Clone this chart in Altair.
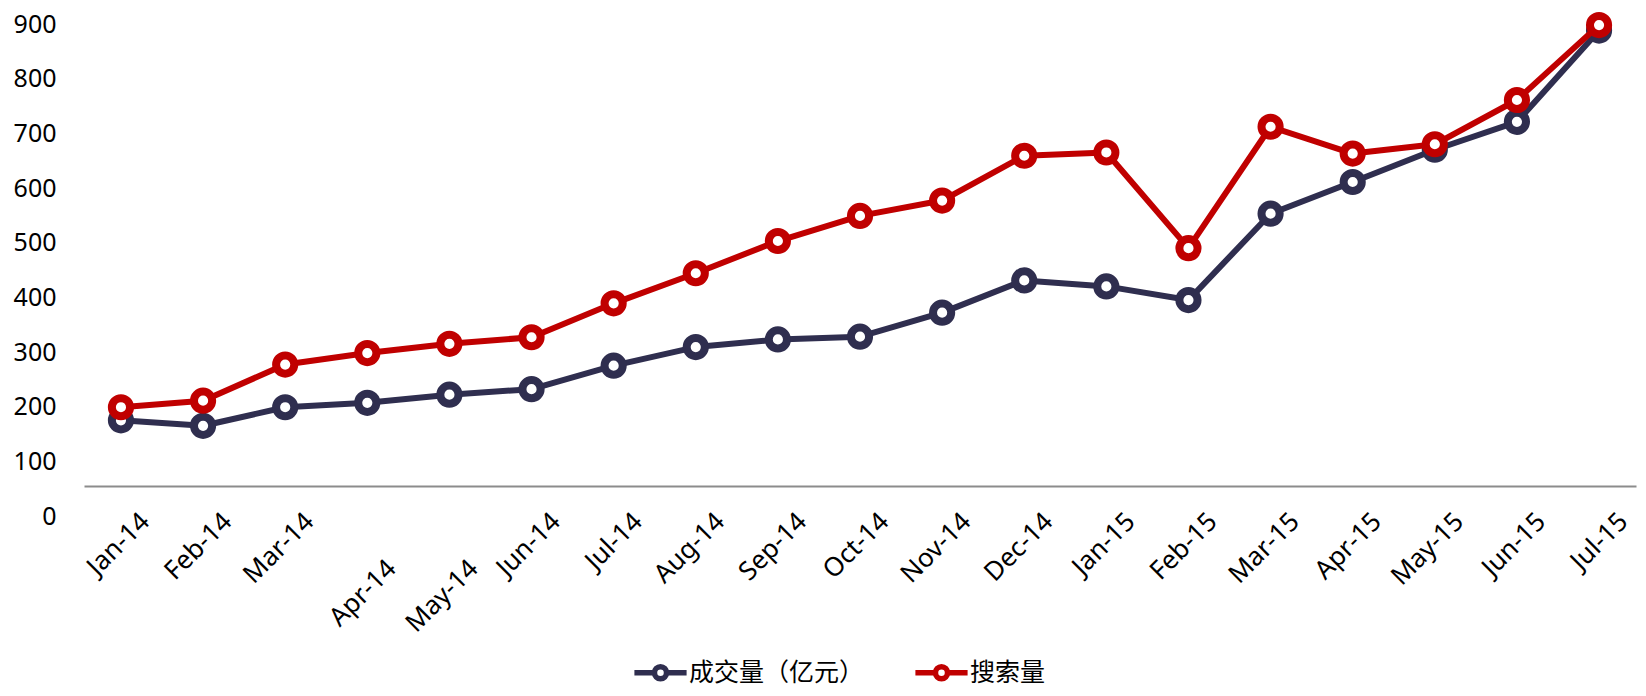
import altair as alt
import pandas as pd

months = ["Jan-14", "Feb-14", "Mar-14", "Apr-14", "May-14", "Jun-14", "Jul-14",
          "Aug-14", "Sep-14", "Oct-14", "Nov-14", "Dec-14", "Jan-15", "Feb-15",
          "Mar-15", "Apr-15", "May-15", "Jun-15", "Jul-15"]
volume = [175, 165, 199, 207, 222, 232, 275, 309, 323, 328, 372, 431, 420, 395,
          553, 611, 670, 721, 888]
search = [199, 211, 277, 298, 315, 327, 389, 444, 503, 549, 577, 659, 665, 490,
          712, 663, 680, 761, 898]
series_names = ["成交量（亿元）", "搜索量"]
colors = ["#2F2E4F", "#C00000"]
y_ticks = list(range(0, 1000, 100))
lowered_labels = ["Apr-14", "May-14"]

rows = []
for name, vals in zip(series_names, [volume, search]):
    for m, v in zip(months, vals):
        rows.append({"month": m, "series": name, "value": v})
df = pd.DataFrame(rows)

legend_path = ("M-2.9,0H-0.67M0.67,0H2.9M0.67,0A0.67,0.67 0 1,1 -0.67,0"
               "A0.67,0.67 0 1,1 0.67,0Z")
legend = alt.Legend(
    title=None, orient="none", legendX=547, legendY=636, direction="horizontal",
    symbolType=legend_path, symbolSize=324, symbolStrokeWidth=5.5,
    symbolFillColor="white", symbolOpacity=1, symbolOffset=17,
    labelFont="Noto Sans CJK SC", labelFontSize=25, labelColor="black",
    labelLimit=0, labelOffset=16, columnPadding=39, padding=0,
)
color = alt.Color("series:N", scale=alt.Scale(domain=series_names, range=colors),
                  legend=legend)

low_test = " || ".join(f"datum.value == '{m}'" for m in lowered_labels)
x = alt.X("month:N", sort=months,
          scale=alt.Scale(type="point", padding=0.45),
          axis=alt.Axis(title=None, labelAngle=-45, labelAlign="right",
                        labelBaseline="middle", labelOffset=24,
                        labelPadding={"condition": {"test": low_test, "value": 78},
                                      "value": 31},
                        ticks=False, domainColor="#8C8C8C", domainWidth=2,
                        offset=-30, labelFontSize=26, labelFont="Noto Sans",
                        labelColor="black", grid=False, labelOverlap=False))
y = alt.Y("value:Q", scale=alt.Scale(domain=[0, 900], nice=False, zero=True),
          axis=alt.Axis(title=None, values=y_ticks, domain=False, ticks=False,
                        grid=False, labelPadding=28, labelFontSize=25,
                        labelFont="Noto Sans", labelColor="black"))

layers = []
for name in series_names:
    base = alt.Chart(df).transform_filter(alt.datum.series == name)
    layers.append(base.mark_line(strokeWidth=6, strokeJoin="round", strokeCap="round")
                  .encode(x=x, y=y, color=color))
    layers.append(base.mark_point(filled=False, fill="white", fillOpacity=1,
                                  strokeWidth=8, size=330, opacity=1, shape="circle")
                  .encode(x=x, y=y, color=color))

chart = alt.layer(*layers).properties(
    width=1552, height=492,
    autosize=alt.AutoSizeParams(type="none"),
    padding={"left": 76, "top": 16, "right": 2, "bottom": 172},
).configure_view(stroke=None)

chart.save("out.html", embed_options={"renderer": "svg", "actions": False})
